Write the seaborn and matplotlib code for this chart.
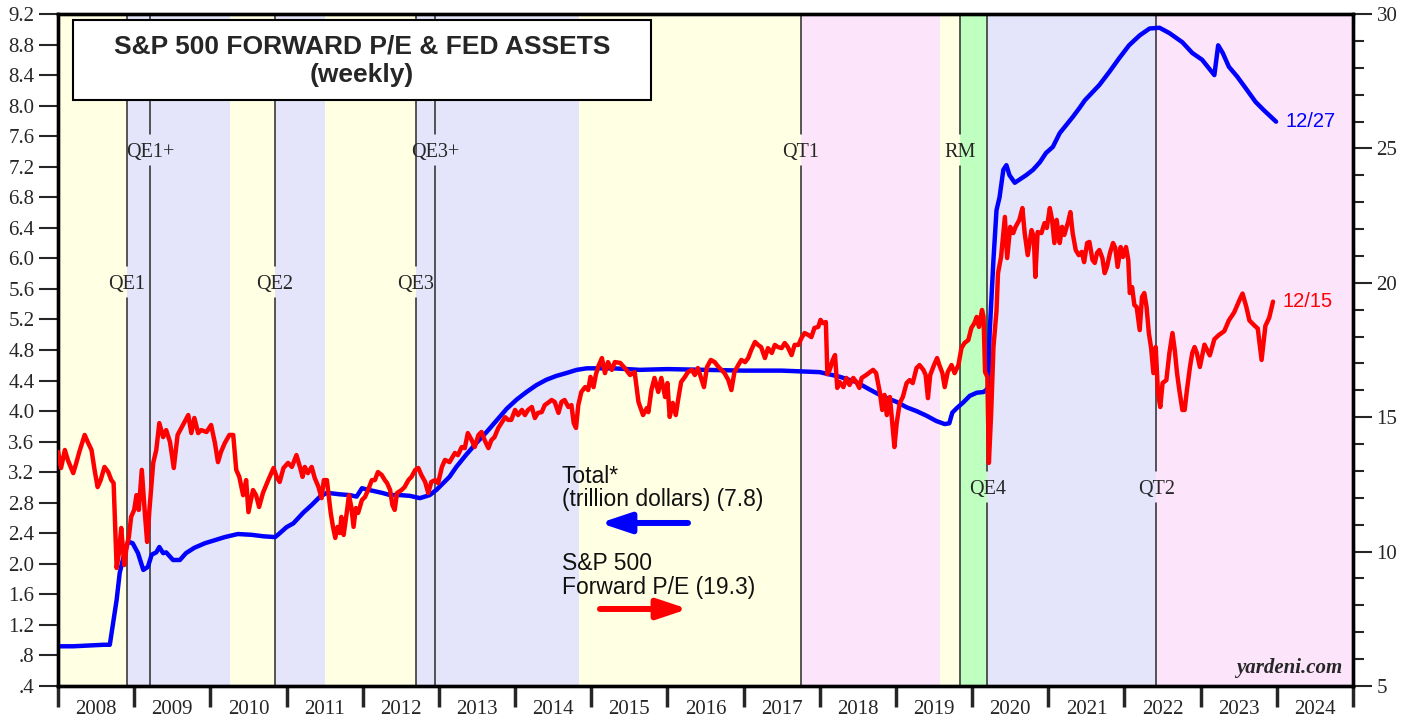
import matplotlib
matplotlib.use("Agg")
import matplotlib.pyplot as plt
from matplotlib.patches import Rectangle
import seaborn as sns

# Fed total assets, trillion dollars (left axis), weekly -> sampled
blue_t = [2008.00, 2008.20, 2008.40, 2008.60, 2008.68, 2008.72, 2008.77, 2008.81, 2008.85, 2008.92,
          2008.98, 2009.05, 2009.12, 2009.18, 2009.23, 2009.29, 2009.33, 2009.38, 2009.42, 2009.51,
          2009.60, 2009.68, 2009.79, 2009.93, 2010.06, 2010.19, 2010.36, 2010.54, 2010.70, 2010.85,
          2010.91, 2011.00, 2011.09, 2011.22, 2011.33, 2011.44, 2011.53, 2011.70, 2011.83, 2011.92,
          2011.99, 2012.07, 2012.16, 2012.25, 2012.36, 2012.49, 2012.62, 2012.75, 2012.88, 2012.97,
          2013.06, 2013.14, 2013.23, 2013.36, 2013.49, 2013.63, 2013.76, 2013.89, 2014.02, 2014.15,
          2014.28, 2014.41, 2014.54, 2014.68, 2014.81, 2014.94, 2015.11, 2015.29, 2015.46, 2015.64,
          2016.00, 2016.50, 2017.00, 2017.50, 2017.75, 2018.00, 2018.26, 2018.48, 2018.66, 2018.83,
          2019.01, 2019.14, 2019.27, 2019.40, 2019.53, 2019.64, 2019.70, 2019.74, 2019.80, 2019.88,
          2019.97, 2020.06, 2020.15, 2020.19, 2020.21, 2020.23, 2020.28, 2020.32, 2020.36, 2020.41,
          2020.45, 2020.49, 2020.56, 2020.62, 2020.71, 2020.80, 2020.89, 2020.97, 2021.06, 2021.15,
          2021.24, 2021.32, 2021.41, 2021.48, 2021.67, 2021.80, 2021.93, 2022.06, 2022.20, 2022.33,
          2022.46, 2022.59, 2022.76, 2022.89, 2023.02, 2023.18, 2023.23, 2023.29, 2023.37, 2023.48,
          2023.59, 2023.72, 2023.83, 2023.99]
blue_v = [0.92, 0.92, 0.93, 0.94, 0.94, 1.20, 1.53, 1.88, 2.05, 2.29,
          2.27, 2.14, 1.92, 1.96, 2.12, 2.15, 2.22, 2.14, 2.15, 2.05,
          2.05, 2.14, 2.21, 2.27, 2.31, 2.35, 2.39, 2.38, 2.36, 2.35,
          2.40, 2.48, 2.53, 2.67, 2.77, 2.88, 2.93, 2.91, 2.90, 2.88,
          2.99, 2.97, 2.95, 2.93, 2.90, 2.90, 2.89, 2.86, 2.90, 2.97,
          3.06, 3.14, 3.27, 3.43, 3.58, 3.73, 3.88, 4.03, 4.15, 4.25,
          4.34, 4.41, 4.46, 4.50, 4.54, 4.56, 4.56, 4.56, 4.55, 4.54,
          4.55, 4.54, 4.53, 4.53, 4.52, 4.51, 4.45, 4.38, 4.28, 4.19,
          4.12, 4.05, 4.00, 3.94, 3.87, 3.83, 3.84, 3.98, 4.04, 4.11,
          4.20, 4.24, 4.25, 4.28, 4.32, 5.02, 5.98, 6.63, 6.80, 7.16,
          7.22, 7.09, 6.99, 7.03, 7.09, 7.16, 7.26, 7.38, 7.46, 7.64,
          7.75, 7.85, 7.97, 8.07, 8.27, 8.44, 8.62, 8.79, 8.92, 9.01,
          9.02, 8.95, 8.83, 8.69, 8.60, 8.40, 8.79, 8.69, 8.51, 8.38,
          8.23, 8.05, 7.94, 7.79]

# S&P 500 forward P/E (right axis)
red_t = [2008.00, 2008.04, 2008.09, 2008.13, 2008.20, 2008.24, 2008.28, 2008.35, 2008.39, 2008.44,
         2008.48, 2008.52, 2008.56, 2008.61, 2008.66, 2008.70, 2008.73, 2008.77, 2008.80, 2008.83,
         2008.87, 2008.90, 2008.93, 2008.96, 2009.00, 2009.03, 2009.06, 2009.10, 2009.14, 2009.17,
         2009.20, 2009.25, 2009.29, 2009.33, 2009.38, 2009.42, 2009.47, 2009.52, 2009.57, 2009.64,
         2009.71, 2009.75, 2009.79, 2009.84, 2009.88, 2009.95, 2010.01, 2010.06, 2010.10, 2010.14,
         2010.19, 2010.25, 2010.30, 2010.34, 2010.38, 2010.43, 2010.47, 2010.50, 2010.56, 2010.60,
         2010.64, 2010.69, 2010.76, 2010.83, 2010.87, 2010.91, 2010.96, 2011.02, 2011.07, 2011.13,
         2011.18, 2011.21, 2011.24, 2011.28, 2011.33, 2011.37, 2011.42, 2011.46, 2011.49, 2011.53,
         2011.58, 2011.61, 2011.64, 2011.67, 2011.70, 2011.72, 2011.75, 2011.79, 2011.82, 2011.85,
         2011.88, 2011.91, 2011.94, 2011.99, 2012.03, 2012.07, 2012.12, 2012.16, 2012.20, 2012.25,
         2012.29, 2012.32, 2012.36, 2012.39, 2012.42, 2012.45, 2012.51, 2012.55, 2012.60, 2012.64,
         2012.69, 2012.73, 2012.77, 2012.82, 2012.86, 2012.90, 2012.95, 2012.99, 2013.04, 2013.08,
         2013.14, 2013.21, 2013.25, 2013.30, 2013.34, 2013.38, 2013.43, 2013.47, 2013.52, 2013.56,
         2013.60, 2013.65, 2013.69, 2013.73, 2013.78, 2013.82, 2013.87, 2013.91, 2013.95, 2014.00,
         2014.04, 2014.09, 2014.13, 2014.17, 2014.22, 2014.26, 2014.30, 2014.35, 2014.39, 2014.43,
         2014.48, 2014.52, 2014.57, 2014.61, 2014.65, 2014.70, 2014.74, 2014.77, 2014.80, 2014.83,
         2014.87, 2014.92, 2014.96, 2014.99, 2015.03, 2015.06, 2015.09, 2015.14, 2015.18, 2015.22,
         2015.27, 2015.31, 2015.38, 2015.44, 2015.51, 2015.57, 2015.62, 2015.68, 2015.73, 2015.75,
         2015.79, 2015.83, 2015.88, 2015.92, 2015.97, 2016.00, 2016.03, 2016.07, 2016.11, 2016.14,
         2016.18, 2016.23, 2016.27, 2016.32, 2016.36, 2016.40, 2016.45, 2016.48, 2016.52, 2016.57,
         2016.62, 2016.67, 2016.71, 2016.75, 2016.80, 2016.84, 2016.88, 2016.93, 2016.97, 2017.02,
         2017.06, 2017.10, 2017.15, 2017.19, 2017.23, 2017.28, 2017.32, 2017.37, 2017.41, 2017.45,
         2017.50, 2017.54, 2017.58, 2017.63, 2017.67, 2017.72, 2017.76, 2017.80, 2017.85, 2017.89,
         2017.93, 2017.98, 2018.01, 2018.04, 2018.08, 2018.10, 2018.13, 2018.17, 2018.20, 2018.23,
         2018.26, 2018.31, 2018.35, 2018.39, 2018.44, 2018.48, 2018.52, 2018.55, 2018.61, 2018.66,
         2018.70, 2018.74, 2018.79, 2018.82, 2018.85, 2018.88, 2018.92, 2018.94, 2018.98, 2019.01,
         2019.05, 2019.09, 2019.14, 2019.18, 2019.22, 2019.27, 2019.31, 2019.36, 2019.39, 2019.42,
         2019.45, 2019.50, 2019.54, 2019.57, 2019.61, 2019.64, 2019.68, 2019.73, 2019.77, 2019.82,
         2019.86, 2019.90, 2019.95, 2019.99, 2020.03, 2020.06, 2020.09, 2020.13, 2020.15, 2020.17,
         2020.20, 2020.22, 2020.25, 2020.28, 2020.32, 2020.34, 2020.38, 2020.43, 2020.46, 2020.50,
         2020.54, 2020.57, 2020.62, 2020.66, 2020.69, 2020.73, 2020.78, 2020.81, 2020.83, 2020.86,
         2020.91, 2020.95, 2020.98, 2021.02, 2021.05, 2021.08, 2021.11, 2021.15, 2021.18, 2021.21,
         2021.26, 2021.29, 2021.32, 2021.36, 2021.40, 2021.44, 2021.47, 2021.51, 2021.54, 2021.58,
         2021.61, 2021.64, 2021.67, 2021.71, 2021.74, 2021.77, 2021.81, 2021.85, 2021.88, 2021.91,
         2021.95, 2021.98, 2022.02, 2022.05, 2022.07, 2022.10, 2022.13, 2022.16, 2022.20, 2022.23,
         2022.26, 2022.29, 2022.32, 2022.35, 2022.38, 2022.41, 2022.44, 2022.47, 2022.50, 2022.55,
         2022.59, 2022.63, 2022.66, 2022.69, 2022.72, 2022.76, 2022.79, 2022.82, 2022.86, 2022.89,
         2022.92, 2022.95, 2022.99, 2023.05, 2023.12, 2023.18, 2023.24, 2023.31, 2023.37, 2023.44,
         2023.51, 2023.55, 2023.60, 2023.64, 2023.71, 2023.75, 2023.80, 2023.85, 2023.90, 2023.95]
red_v = [13.71, 13.11, 13.78, 13.40, 12.92, 13.30, 13.71, 14.34, 14.08, 13.78,
         13.04, 12.40, 12.66, 13.15, 12.96, 12.66, 12.55, 9.39, 9.95, 10.88,
         9.50, 10.17, 10.54, 11.29, 11.55, 12.10, 11.55, 13.04, 11.44, 10.36,
         11.55, 13.30, 13.78, 14.78, 14.26, 14.52, 14.08, 13.11, 14.34, 14.71,
         15.08, 14.41, 14.97, 14.41, 14.52, 14.45, 14.71, 14.04, 13.33, 13.71,
         14.04, 14.34, 14.34, 13.04, 12.78, 12.10, 12.66, 11.47, 12.29, 12.10,
         11.66, 12.18, 12.66, 13.11, 12.78, 12.59, 13.11, 13.30, 13.15, 13.59,
         13.11, 12.78, 13.15, 12.92, 13.15, 12.74, 12.40, 11.99, 12.66, 12.66,
         11.44, 10.92, 10.51, 10.92, 10.69, 11.29, 10.62, 11.44, 12.10, 11.66,
         10.92, 11.62, 11.44, 11.92, 12.03, 12.29, 12.66, 12.66, 12.96, 12.85,
         12.66, 12.55, 12.29, 11.73, 11.55, 12.18, 12.29, 12.40, 12.66, 12.78,
         13.04, 13.11, 12.85, 12.59, 12.18, 12.59, 12.66, 12.55, 13.15, 13.41,
         13.33, 13.67, 13.59, 13.89, 13.85, 14.41, 14.15, 13.89, 14.34, 14.45,
         14.15, 13.85, 14.15, 14.26, 14.60, 14.78, 15.00, 14.90, 14.90, 15.27,
         15.08, 15.27, 15.08, 15.27, 15.38, 14.97, 15.16, 15.19, 15.45, 15.53,
         15.64, 15.57, 15.16, 15.57, 15.64, 15.38, 15.45, 14.78, 14.60, 15.45,
         15.94, 16.12, 16.01, 16.50, 16.12, 16.57, 16.87, 17.20, 16.64, 17.05,
         16.76, 17.05, 17.02, 16.83, 16.57, 16.68, 15.57, 15.08, 15.34, 15.19,
         16.01, 16.46, 15.94, 16.46, 15.75, 16.27, 15.01, 15.53, 15.08, 15.64,
         16.31, 16.50, 16.68, 16.76, 16.57, 16.83, 16.38, 16.12, 16.87, 17.13,
         17.05, 16.87, 16.76, 16.64, 16.38, 16.01, 16.68, 16.94, 17.13, 17.05,
         17.20, 17.50, 17.80, 17.69, 17.61, 17.20, 17.57, 17.39, 17.69, 17.61,
         17.57, 17.76, 17.61, 17.31, 17.69, 17.69, 17.95, 18.13, 18.06, 17.98,
         18.32, 18.36, 18.62, 18.50, 18.54, 16.60, 16.76, 17.13, 17.31, 16.09,
         16.31, 16.12, 16.46, 16.20, 16.46, 16.31, 16.09, 16.46, 16.57, 16.68,
         16.76, 16.64, 15.90, 15.27, 15.83, 15.08, 15.75, 15.16, 13.89, 14.78,
         15.53, 15.75, 16.27, 16.38, 16.27, 16.83, 16.94, 16.76, 16.57, 15.71,
         16.57, 16.94, 17.20, 16.94, 16.64, 16.12, 16.68, 16.94, 16.64, 16.94,
         17.57, 17.76, 17.87, 18.32, 18.50, 18.73, 18.36, 18.99, 18.73, 16.68,
         16.50, 13.30, 15.16, 17.61, 18.95, 20.36, 20.96, 22.45, 20.92, 22.08,
         21.85, 22.08, 22.34, 22.78, 21.85, 21.03, 21.96, 21.70, 20.22, 21.89,
         21.85, 22.22, 22.04, 22.78, 22.34, 21.48, 22.34, 21.48, 22.08, 21.78,
         22.26, 22.63, 21.85, 21.22, 21.03, 21.15, 20.77, 21.48, 21.52, 20.85,
         20.74, 21.11, 21.22, 20.92, 20.36, 20.59, 21.11, 21.48, 21.29, 20.59,
         21.33, 20.96, 21.33, 20.85, 19.62, 19.84, 19.17, 19.10, 18.24, 19.47,
         19.62, 19.10, 18.13, 17.57, 16.64, 17.61, 15.90, 15.38, 16.27, 16.38,
         17.39, 18.13, 17.50, 16.64, 16.01, 15.27, 15.27, 16.01, 16.87, 17.39,
         17.61, 17.39, 16.87, 17.70, 17.30, 17.90, 18.06, 18.20, 18.60, 18.90,
         19.36, 19.60, 19.10, 18.60, 18.40, 18.30, 17.13, 18.40, 18.70, 19.30]

# shaded policy regimes
span_start = [2008.00, 2008.90, 2010.26, 2010.85, 2011.50, 2012.70, 2014.84, 2017.75, 2019.58, 2019.84, 2020.20, 2022.42]
span_end = [2008.90, 2010.26, 2010.85, 2011.50, 2012.70, 2014.84, 2017.75, 2019.58, 2019.84, 2020.20, 2022.42, 2025.00]
span_color = ["#FFFFE3", "#E4E4FB", "#FFFFE3", "#E4E4FB", "#FFFFE3", "#E4E4FB", "#FFFFE3", "#FCE4FB",
              "#FFFFE3", "#BFFFBF", "#E4E4FB", "#FCE4FB"]

# event lines and their label rows (axes fraction height)
event_t = [2008.90, 2009.21, 2010.85, 2012.70, 2012.95, 2017.75, 2019.84, 2020.20, 2022.42]
event_label = ["QE1", "QE1+", "QE2", "QE3", "QE3+", "QT1", "RM", "QE4", "QT2"]
event_y = [0.601, 0.798, 0.601, 0.601, 0.798, 0.798, 0.798, 0.296, 0.296]

years = list(range(2008, 2025))
left_ticks = [0.4, 0.8, 1.2, 1.6, 2.0, 2.4, 2.8, 3.2, 3.6, 4.0, 4.4, 4.8,
              5.2, 5.6, 6.0, 6.4, 6.8, 7.2, 7.6, 8.0, 8.4, 8.8, 9.2]
right_ticks = [5, 10, 15, 20, 25, 30]

sns.set_style("ticks")
plt.rcParams["font.family"] = ["Liberation Serif", "DejaVu Serif"]

W, H = 1413, 717
fig = plt.figure(figsize=(W / 100, H / 100), dpi=100)
ax = fig.add_axes([58 / W, 31 / H, 1295 / W, 672 / H])

for a, b, c in zip(span_start, span_end, span_color):
    ax.axvspan(a, b, color=c, lw=0, zorder=0)

xt = ax.get_xaxis_transform()
for t, lab, yl in zip(event_t, event_label, event_y):
    ax.axvline(t, 0, yl - 0.024, color="#2a2a2a", lw=1.1, zorder=1)
    ax.axvline(t, yl + 0.024, 1, color="#2a2a2a", lw=1.1, zorder=1)
    ax.text(t, yl - 0.004, lab, transform=xt, ha="center", va="center", fontsize=14.5, zorder=2)

sns.lineplot(x=blue_t, y=blue_v, ax=ax, color="#0000FF", lw=3.2, estimator=None, sort=False, zorder=3)

ax.set_xlim(2008, 2025)
ax.set_ylim(0.4, 9.2)
ax.set_yticks(left_ticks)
ax.set_yticklabels([f"{v:.1f}".lstrip("0") for v in left_ticks])
ax.set_xticks(list(range(2008, 2026)))
ax.set_xticklabels([])
ax.set_xticks([y + 0.5 for y in years], minor=True)
ax.set_xticklabels([str(y) for y in years], minor=True)
ax.tick_params(axis="x", which="major", direction="out", length=15, width=2.5, bottom=True)
ax.tick_params(axis="x", which="minor", length=0, pad=10, labelsize=15)
ax.tick_params(axis="y", direction="out", length=14, width=1.5, labelsize=15, left=True, pad=3)
ax.set_xlabel("")
ax.set_ylabel("")

ax2 = ax.twinx()
sns.lineplot(x=red_t, y=red_v, ax=ax2, color="#FF0000", lw=3.2, estimator=None, sort=False, zorder=3)
ax2.set_ylim(5, 30)
ax2.set_yticks(right_ticks)
ax2.set_yticks(list(range(5, 31)), minor=True)
ax2.tick_params(axis="y", which="major", direction="out", length=14, width=1.5, labelsize=15, right=True, pad=3)
ax2.tick_params(axis="y", which="minor", direction="out", length=8, width=1.5, right=True)
ax2.set_ylabel("")

for a in (ax, ax2):
    for s in a.spines.values():
        s.set_linewidth(2.4)
        s.set_color("black")
        s.set_visible(True)

# end labels
ax.annotate("12/27", xy=(blue_t[-1], blue_v[-1]), xytext=(7, 0), textcoords="offset points",
            ha="left", va="center", color="#0000FF", fontsize=14.5, family="Liberation Sans", zorder=5)
ax2.annotate("12/15", xy=(red_t[-1], red_v[-1]), xytext=(7, 0), textcoords="offset points",
             ha="left", va="center", color="#FF0000", fontsize=14.5, family="Liberation Sans", zorder=5)

# title box
ax2.add_patch(Rectangle((0.0116, 0.872), 0.4463, 0.119, transform=ax2.transAxes,
                        facecolor="white", edgecolor="black", lw=1.5, zorder=6))
ax2.text(0.2347, 0.951, "S&P 500 FORWARD P/E & FED ASSETS", transform=ax2.transAxes, ha="center",
         va="center", fontsize=19, fontweight="bold", family="Liberation Sans", zorder=7)
ax2.text(0.2347, 0.909, "(weekly)", transform=ax2.transAxes, ha="center", va="center",
         fontsize=19, fontweight="bold", family="Liberation Sans", zorder=7)

# legend-like notes with arrows
sans = dict(transform=ax2.transAxes, ha="left", va="center", fontsize=16.5, family="Liberation Sans",
            color="#111111", zorder=7)
ax2.text(0.389, 0.312, "Total*", **sans)
ax2.text(0.389, 0.278, "(trillion dollars) (7.8)", **sans)
ax2.text(0.389, 0.1825, "S&P 500", **sans)
ax2.text(0.389, 0.147, "Forward P/E (19.3)", **sans)
ax2.annotate("", xy=(0.4185, 0.2426), xytext=(0.4865, 0.2426), xycoords="axes fraction",
             arrowprops=dict(arrowstyle="-|>,head_length=0.6,head_width=0.2", lw=4.3,
                             color="#0000FF", mutation_scale=30, shrinkA=0, shrinkB=0, capstyle="round"),
             zorder=7)
ax2.annotate("", xy=(0.4865, 0.1146), xytext=(0.4185, 0.1146), xycoords="axes fraction",
             arrowprops=dict(arrowstyle="-|>,head_length=0.6,head_width=0.2", lw=4.3,
                             color="#FF0000", mutation_scale=30, shrinkA=0, shrinkB=0, capstyle="round"),
             zorder=7)

ax2.text(0.992, 0.027, "yardeni.com", transform=ax2.transAxes, ha="right", va="center",
         fontsize=15, fontweight="bold", fontstyle="italic", zorder=7)

fig.savefig("out.png", dpi=100)
